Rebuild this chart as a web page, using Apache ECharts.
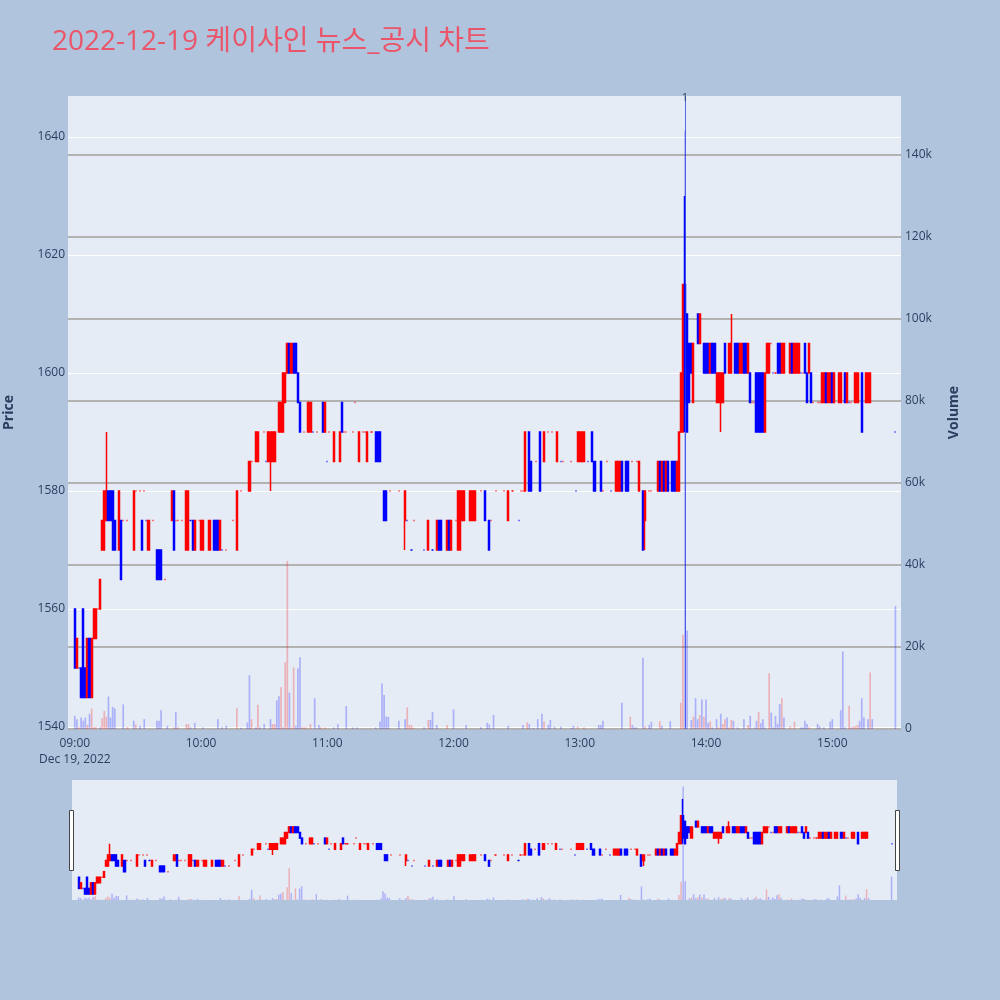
<!DOCTYPE html>
<html>
<head>
<meta charset="utf-8">
<title>2022-12-19 케이사인 뉴스_공시 차트</title>
<script src="https://cdn.jsdelivr.net/npm/echarts@6.0.0/dist/echarts.min.js"></script>
<style>
  html, body { margin: 0; padding: 0; background: #b0c4de; }
  #chart { width: 1000px; height: 1000px; }
</style>
</head>
<body>
<div id="chart"></div>
<script>
const day = '2022-12-19 ';

// [time, open, close, low, high]
const candles = [
  ['09:00',1560,1550,1550,1560], ['09:01',1550,1555,1550,1555], ['09:02',1550,1550,1550,1550],
  ['09:03',1550,1545,1545,1550], ['09:04',1560,1545,1545,1560], ['09:05',1550,1545,1545,1550],
  ['09:06',1545,1555,1545,1555], ['09:07',1555,1545,1545,1555], ['09:08',1545,1555,1545,1555],
  ['09:09',1555,1560,1555,1560], ['09:10',1555,1560,1555,1560], ['09:11',1560,1560,1560,1560],
  ['09:12',1560,1565,1560,1565], ['09:13',1570,1575,1570,1575], ['09:14',1570,1580,1570,1580],
  ['09:15',1575,1580,1575,1590], ['09:16',1580,1575,1575,1580], ['09:17',1580,1575,1575,1580],
  ['09:18',1580,1570,1570,1580], ['09:19',1575,1570,1570,1575], ['09:21',1570,1580,1570,1580],
  ['09:22',1575,1565,1565,1575], ['09:23',1575,1575,1575,1575], ['09:25',1575,1575,1575,1575],
  ['09:28',1570,1580,1570,1580], ['09:29',1580,1580,1580,1580], ['09:31',1580,1580,1580,1580],
  ['09:32',1575,1570,1570,1575], ['09:33',1580,1580,1580,1580], ['09:34',1575,1575,1575,1575],
  ['09:35',1570,1575,1570,1575], ['09:37',1575,1575,1575,1575], ['09:39',1570,1565,1565,1570],
  ['09:40',1570,1565,1565,1570], ['09:41',1570,1565,1565,1570], ['09:43',1565,1565,1565,1565],
  ['09:46',1575,1580,1575,1580], ['09:47',1580,1570,1570,1580], ['09:48',1575,1575,1575,1575],
  ['09:49',1575,1575,1575,1575], ['09:51',1575,1575,1575,1575], ['09:53',1570,1580,1570,1580],
  ['09:54',1570,1580,1570,1580], ['09:55',1575,1575,1575,1575], ['09:56',1575,1570,1570,1575],
  ['09:57',1570,1575,1570,1575], ['09:59',1575,1575,1575,1575], ['10:00',1570,1575,1570,1575],
  ['10:01',1570,1575,1570,1575], ['10:04',1570,1575,1570,1575], ['10:06',1575,1570,1570,1575],
  ['10:07',1575,1570,1570,1575], ['10:08',1575,1570,1570,1575], ['10:09',1570,1575,1570,1575],
  ['10:10',1570,1570,1570,1570], ['10:12',1570,1570,1570,1570], ['10:15',1575,1575,1575,1575],
  ['10:17',1570,1580,1570,1580], ['10:19',1580,1580,1580,1580], ['10:23',1580,1585,1580,1585],
  ['10:24',1585,1585,1585,1585], ['10:26',1585,1590,1585,1590], ['10:27',1585,1590,1585,1590],
  ['10:30',1590,1590,1590,1590], ['10:31',1585,1585,1585,1585], ['10:32',1585,1590,1585,1590],
  ['10:33',1585,1590,1580,1590], ['10:34',1585,1590,1585,1590], ['10:35',1585,1590,1585,1590],
  ['10:37',1590,1595,1590,1595], ['10:38',1590,1595,1590,1595], ['10:39',1590,1600,1590,1600],
  ['10:40',1595,1600,1595,1600], ['10:41',1600,1605,1600,1605], ['10:42',1605,1600,1600,1605],
  ['10:43',1600,1605,1600,1605], ['10:44',1605,1600,1600,1605], ['10:45',1605,1600,1600,1605],
  ['10:46',1600,1595,1595,1600], ['10:47',1595,1590,1590,1595], ['10:49',1590,1590,1590,1590],
  ['10:51',1590,1595,1590,1595], ['10:52',1590,1595,1590,1595], ['10:53',1590,1590,1590,1590],
  ['10:55',1590,1590,1590,1590], ['10:58',1595,1590,1590,1595], ['10:59',1590,1595,1590,1595],
  ['11:00',1585,1585,1585,1585], ['11:01',1590,1590,1590,1590], ['11:03',1585,1590,1585,1590],
  ['11:06',1585,1590,1585,1590], ['11:07',1595,1590,1590,1595], ['11:08',1590,1590,1590,1590],
  ['11:09',1590,1590,1590,1590], ['11:12',1590,1590,1590,1590], ['11:13',1595,1595,1595,1595],
  ['11:15',1585,1590,1585,1590], ['11:17',1590,1590,1590,1590], ['11:18',1590,1590,1590,1590],
  ['11:19',1585,1590,1585,1590], ['11:21',1590,1590,1590,1590], ['11:23',1590,1585,1585,1590],
  ['11:24',1590,1585,1585,1590], ['11:25',1590,1585,1585,1590], ['11:27',1580,1575,1575,1580],
  ['11:28',1580,1575,1575,1580], ['11:30',1580,1580,1580,1580], ['11:34',1580,1580,1580,1580],
  ['11:37',1575,1580,1570,1580], ['11:38',1575,1575,1575,1575], ['11:40',1570,1570,1570,1570],
  ['11:41',1575,1575,1575,1575], ['11:46',1570,1570,1570,1570], ['11:48',1570,1575,1570,1575],
  ['11:50',1570,1570,1570,1570], ['11:52',1570,1575,1570,1575], ['11:53',1575,1570,1570,1575],
  ['11:54',1575,1570,1570,1575], ['11:57',1570,1575,1570,1575], ['11:58',1575,1570,1570,1575],
  ['11:59',1570,1575,1570,1575], ['12:01',1575,1575,1575,1575], ['12:02',1570,1580,1570,1580],
  ['12:03',1570,1580,1570,1580], ['12:04',1575,1580,1575,1580], ['12:05',1575,1580,1575,1580],
  ['12:08',1575,1580,1575,1580], ['12:09',1575,1580,1575,1580], ['12:10',1575,1580,1575,1580],
  ['12:13',1580,1580,1580,1580], ['12:15',1580,1575,1575,1580], ['12:17',1575,1570,1570,1575],
  ['12:18',1575,1575,1575,1575], ['12:20',1580,1580,1580,1580], ['12:24',1580,1580,1580,1580],
  ['12:26',1575,1580,1575,1580], ['12:28',1580,1580,1580,1580], ['12:31',1575,1575,1575,1575],
  ['12:32',1580,1580,1580,1580], ['12:33',1580,1580,1580,1580], ['12:34',1580,1590,1580,1590],
  ['12:36',1590,1580,1580,1590], ['12:37',1585,1580,1580,1585], ['12:39',1585,1585,1585,1585],
  ['12:41',1590,1580,1580,1590], ['12:43',1585,1590,1585,1590], ['12:45',1590,1590,1590,1590],
  ['12:47',1590,1590,1590,1590], ['12:49',1585,1590,1585,1590], ['12:51',1585,1585,1585,1585],
  ['12:52',1585,1585,1585,1585], ['12:56',1585,1585,1585,1585], ['12:58',1580,1580,1580,1580],
  ['12:59',1585,1590,1585,1590], ['13:00',1585,1590,1585,1590], ['13:01',1585,1590,1585,1590],
  ['13:02',1585,1590,1585,1590], ['13:04',1585,1585,1585,1585], ['13:06',1590,1585,1585,1590],
  ['13:07',1585,1580,1580,1585], ['13:10',1585,1580,1580,1585], ['13:11',1580,1580,1580,1580],
  ['13:13',1585,1585,1585,1585], ['13:15',1580,1580,1580,1580], ['13:17',1580,1585,1580,1585],
  ['13:18',1580,1585,1580,1585], ['13:19',1580,1585,1580,1585], ['13:20',1585,1580,1580,1585],
  ['13:22',1585,1580,1580,1585], ['13:23',1585,1580,1580,1585], ['13:25',1585,1585,1585,1585],
  ['13:27',1585,1585,1585,1585], ['13:28',1580,1585,1580,1585], ['13:30',1580,1570,1570,1580],
  ['13:31',1575,1580,1570,1580], ['13:33',1580,1580,1580,1580], ['13:34',1580,1580,1580,1580],
  ['13:37',1580,1585,1580,1585], ['13:38',1585,1580,1580,1585], ['13:39',1580,1585,1580,1585],
  ['13:40',1585,1580,1580,1585], ['13:41',1580,1585,1580,1585], ['13:42',1585,1580,1580,1585],
  ['13:44',1585,1580,1580,1585], ['13:45',1585,1580,1580,1585], ['13:46',1580,1585,1580,1585],
  ['13:47',1580,1590,1580,1590], ['13:48',1590,1600,1590,1600], ['13:49',1590,1615,1590,1615],
  ['13:50',1615,1595,1590,1630], ['13:51',1610,1590,1590,1610], ['13:52',1605,1595,1595,1605],
  ['13:53',1605,1600,1600,1605], ['13:54',1595,1605,1595,1605], ['13:56',1610,1605,1605,1610],
  ['13:57',1605,1610,1605,1610], ['13:59',1605,1600,1600,1605], ['14:00',1605,1600,1600,1605],
  ['14:01',1605,1600,1600,1605], ['14:02',1600,1605,1600,1605], ['14:03',1605,1600,1600,1605],
  ['14:04',1605,1600,1600,1605], ['14:05',1595,1600,1595,1600], ['14:06',1595,1600,1595,1600],
  ['14:07',1595,1600,1590,1600], ['14:08',1595,1600,1595,1600], ['14:09',1605,1600,1600,1605],
  ['14:11',1600,1605,1600,1605], ['14:12',1600,1605,1600,1610], ['14:14',1605,1600,1600,1605],
  ['14:15',1605,1600,1600,1605], ['14:16',1600,1605,1600,1605], ['14:17',1600,1605,1600,1605],
  ['14:18',1605,1600,1600,1605], ['14:19',1605,1600,1600,1605], ['14:20',1600,1605,1600,1605],
  ['14:21',1600,1595,1595,1600], ['14:22',1595,1595,1595,1595], ['14:23',1595,1595,1595,1595],
  ['14:24',1600,1590,1590,1600], ['14:25',1600,1590,1590,1600], ['14:26',1600,1590,1590,1600],
  ['14:27',1600,1590,1590,1600], ['14:28',1590,1600,1590,1600], ['14:29',1600,1605,1600,1605],
  ['14:30',1600,1605,1600,1605], ['14:31',1605,1605,1605,1605], ['14:32',1600,1600,1600,1600],
  ['14:33',1600,1600,1600,1600], ['14:34',1605,1600,1600,1605], ['14:35',1605,1600,1600,1605],
  ['14:36',1600,1605,1600,1605], ['14:37',1600,1605,1600,1605], ['14:40',1600,1605,1600,1605],
  ['14:41',1605,1600,1600,1605], ['14:42',1600,1605,1600,1605], ['14:43',1600,1605,1600,1605],
  ['14:44',1600,1605,1600,1605], ['14:45',1600,1600,1600,1600], ['14:46',1600,1600,1600,1600],
  ['14:47',1605,1600,1600,1605], ['14:48',1600,1595,1595,1600], ['14:49',1600,1605,1600,1605],
  ['14:50',1600,1595,1595,1600], ['14:51',1595,1595,1595,1595], ['14:53',1595,1595,1595,1595],
  ['14:54',1595,1595,1595,1595], ['14:55',1595,1600,1595,1600], ['14:56',1595,1600,1595,1600],
  ['14:57',1600,1595,1595,1600], ['14:58',1595,1600,1595,1600], ['14:59',1595,1600,1595,1600],
  ['15:00',1600,1595,1595,1600], ['15:01',1595,1600,1595,1600], ['15:03',1595,1600,1595,1600],
  ['15:04',1595,1600,1595,1600], ['15:06',1600,1595,1595,1600], ['15:07',1595,1600,1595,1600],
  ['15:08',1595,1595,1595,1595], ['15:09',1595,1595,1595,1595], ['15:11',1595,1600,1595,1600],
  ['15:12',1595,1600,1595,1600], ['15:14',1600,1590,1590,1600], ['15:16',1595,1600,1595,1600],
  ['15:17',1595,1600,1595,1600], ['15:18',1595,1600,1595,1600], ['15:30',1590,1590,1590,1590]
];

// [time, shares, 1 = red bar / 0 = blue bar]
const volumes = [
  ['09:00',3200,0], ['09:01',2400,0], ['09:02',400,1], ['09:03',2800,0], ['09:04',2000,0],
  ['09:05',2800,0], ['09:06',1000,1], ['09:07',3700,0], ['09:08',5000,1], ['09:09',500,1],
  ['09:10',500,1], ['09:12',400,0], ['09:13',2600,1], ['09:14',4400,1], ['09:15',3000,1],
  ['09:16',7900,0], ['09:17',2800,0], ['09:18',5400,0], ['09:19',5000,0], ['09:23',6000,0],
  ['09:25',500,1], ['09:28',2000,0], ['09:29',1100,1], ['09:31',800,0], ['09:33',2400,0],
  ['09:39',2000,0], ['09:40',2000,0], ['09:41',4600,0], ['09:44',800,0], ['09:47',400,1],
  ['09:48',4100,0], ['09:49',400,1], ['09:53',1200,1], ['09:54',1200,1], ['09:55',400,0],
  ['09:57',1500,0], ['10:01',400,0], ['10:08',2400,0], ['10:10',400,0], ['10:12',800,0],
  ['10:17',5100,1], ['10:19',300,0], ['10:22',1600,0], ['10:23',13100,0], ['10:24',2400,1],
  ['10:26',400,0], ['10:27',5900,1], ['10:28',400,0], ['10:30',1200,0], ['10:33',2400,0],
  ['10:34',1200,1], ['10:35',1200,1], ['10:36',7000,0], ['10:37',8000,0], ['10:38',10200,1],
  ['10:39',400,0], ['10:40',16300,1], ['10:41',41000,1], ['10:42',8900,0], ['10:43',400,1],
  ['10:44',15000,1], ['10:45',800,0], ['10:46',14800,0], ['10:47',17500,0], ['10:48',400,1],
  ['10:49',400,1], ['10:50',400,1], ['10:52',1200,1], ['10:54',7500,0], ['10:56',1000,0],
  ['10:57',400,1], ['10:59',400,1], ['11:03',400,0], ['11:05',1200,0], ['11:09',5600,0],
  ['11:12',400,0], ['11:14',400,0], ['11:23',400,0], ['11:25',1800,0], ['11:26',11100,0],
  ['11:27',8300,0], ['11:28',3000,0], ['11:29',3000,0], ['11:34',2000,0], ['11:37',2400,0],
  ['11:38',5300,1], ['11:39',1000,1], ['11:40',1000,1], ['11:41',300,1], ['11:46',400,0],
  ['11:48',2200,1], ['11:49',2200,0], ['11:50',4100,0], ['11:52',1000,0], ['11:57',1000,1],
  ['12:00',4800,0], ['12:06',1000,0], ['12:13',400,0], ['12:16',1500,0], ['12:17',1100,0],
  ['12:19',3400,0], ['12:26',800,0], ['12:33',1000,0], ['12:35',1600,1], ['12:36',1200,0],
  ['12:38',200,0], ['12:40',2400,0], ['12:42',3700,0], ['12:43',1800,1], ['12:45',1000,0],
  ['12:46',2200,0], ['12:48',600,0], ['12:51',600,0], ['12:56',200,0], ['12:57',800,0],
  ['12:59',600,1], ['13:02',400,1], ['13:09',1000,0], ['13:10',1000,0], ['13:11',2000,0],
  ['13:20',6400,0], ['13:24',3000,1], ['13:25',1000,0], ['13:26',400,0], ['13:27',400,0],
  ['13:30',17400,0], ['13:31',600,1], ['13:33',1000,0], ['13:34',1800,0], ['13:38',1900,1],
  ['13:39',800,0], ['13:43',1900,0], ['13:48',6400,1], ['13:49',23000,1], ['13:50',146000,0],
  ['13:51',24000,0], ['13:53',2200,0], ['13:54',3000,1], ['13:55',7500,0], ['13:56',2400,0],
  ['13:57',3400,1], ['13:58',7200,0], ['13:59',3000,1], ['14:00',7200,0], ['14:01',1500,0],
  ['14:02',1900,1], ['14:03',400,0], ['14:05',2400,0], ['14:06',400,1], ['14:07',3700,0],
  ['14:08',1200,1], ['14:09',2400,1], ['14:10',2800,0], ['14:11',400,1], ['14:12',2200,1],
  ['14:13',2000,0], ['14:15',400,0], ['14:18',2400,0], ['14:20',1000,1], ['14:21',3200,0],
  ['14:23',400,0], ['14:24',2000,0], ['14:25',4200,1], ['14:26',1400,0], ['14:27',2400,0],
  ['14:28',400,0], ['14:30',13600,1], ['14:31',4000,0], ['14:32',400,0], ['14:33',3200,0],
  ['14:34',1200,0], ['14:35',6100,0], ['14:36',7500,1], ['14:37',2800,0], ['14:40',700,1],
  ['14:42',1800,1], ['14:45',400,0], ['14:46',400,0], ['14:47',2000,0], ['14:48',1200,0],
  ['14:49',400,1], ['14:53',1200,0], ['14:54',700,0], ['14:56',400,0], ['14:59',1800,0],
  ['15:00',2400,0], ['15:04',4600,0], ['15:05',18900,0], ['15:06',400,0], ['15:08',5700,1],
  ['15:09',400,0], ['15:10',600,1], ['15:11',700,1], ['15:12',1000,1], ['15:13',2000,0],
  ['15:14',7500,0], ['15:15',2800,0], ['15:17',2400,0], ['15:18',13800,1], ['15:19',2400,0],
  ['15:30',30000,0]
];

// news / disclosure marker
const newsTimes = ['13:50'];
const newsLabels = ['1'];

const RED = '#ff0000';
const BLUE = '#0000ff';
const VOL_RED = 'rgba(255,0,0,0.25)';
const VOL_BLUE = 'rgba(0,0,255,0.25)';
const FONT = "'Open Sans', 'Noto Sans CJK KR', sans-serif";
const TXT = '#2a3f5f';

const xMin = day + '08:57:10';
const xMax = day + '15:32:15';
const priceMin = 1539.66;
const priceMax = 1646.95;
const volMax = 154400;

const candleData = candles.map(c => [day + c[0], c[1], c[2], c[3], c[4]]);
const volData = volumes.map(v => ({
  value: [day + v[0], v[1]],
  itemStyle: { color: v[2] ? VOL_RED : VOL_BLUE }
}));

const pad2 = n => String(n).padStart(2, '0');

const candleStyle = {
  color: RED, color0: BLUE,
  borderColor: RED, borderColor0: BLUE,
  borderWidth: 1.5
};

const chart = echarts.init(document.getElementById('chart'), null, { renderer: 'canvas' });

chart.setOption({
  backgroundColor: '#b0c4de',
  animation: false,
  textStyle: { fontFamily: FONT },
  title: {
    text: '2022-12-19 케이사인 뉴스_공시 차트',
    left: 47, top: 23,
    textStyle: { color: '#eb5569', fontSize: 28, fontWeight: 'normal', fontFamily: FONT }
  },
  grid: [
    { left: 68, right: 99, top: 96, height: 633, show: true, backgroundColor: '#e5ecf6', borderWidth: 0, outerBoundsMode: 'none', containLabel: false },
    { left: 72, right: 103, top: 780, height: 120, show: true, backgroundColor: '#e5ecf6', borderWidth: 0, outerBoundsMode: 'none', containLabel: false }
  ],
  xAxis: [
    {
      type: 'time', gridIndex: 0, min: xMin, max: xMax,
      minInterval: 3600 * 1000, maxInterval: 3600 * 1000,
      axisLine: { show: false }, axisTick: { show: false }, splitLine: { show: false },
      axisLabel: {
        color: TXT, fontSize: 12, margin: 7, lineHeight: 16,
        formatter: function (val) {
          const d = new Date(val);
          if (d.getMinutes() !== 0 || d.getSeconds() !== 0) return '';
          let s = pad2(d.getHours()) + ':' + pad2(d.getMinutes());
          if (d.getHours() === 9) s += '\nDec 19, 2022';
          return s;
        }
      }
    },
    {
      type: 'time', gridIndex: 1, min: xMin, max: xMax,
      axisLine: { show: false }, axisTick: { show: false },
      axisLabel: { show: false }, splitLine: { show: false }
    }
  ],
  yAxis: [
    {
      type: 'value', gridIndex: 0, position: 'left', min: priceMin, max: priceMax, splitNumber: 5,
      name: 'Price', nameLocation: 'middle', nameGap: 52, nameRotate: 90,
      nameTextStyle: { color: TXT, fontSize: 14, fontWeight: 'bold' },
      axisLine: { show: false }, axisTick: { show: false },
      axisLabel: {
        color: TXT, fontSize: 12, margin: 3,
        formatter: v => (Math.abs(v % 20) < 1e-6 ? String(v) : '')
      },
      splitLine: { show: true, showMinLine: false, showMaxLine: false, lineStyle: { color: '#ffffff', width: 1 } }
    },
    {
      type: 'value', gridIndex: 0, position: 'right', min: 0, max: volMax, interval: 20000,
      name: 'Volume', nameLocation: 'middle', nameGap: 46, nameRotate: 90,
      nameTextStyle: { color: TXT, fontSize: 14, fontWeight: 'bold' },
      axisLine: { show: false }, axisTick: { show: false },
      axisLabel: {
        color: TXT, fontSize: 12, margin: 4,
        formatter: v => (v % 20000 !== 0 ? '' : (v === 0 ? '0' : (v / 1000) + 'k'))
      },
      splitLine: { show: true, showMaxLine: false, lineStyle: { color: '#b2b2b2', width: 2 } }
    },
    { type: 'value', gridIndex: 1, min: priceMin, max: priceMax, show: false, splitLine: { show: false } },
    { type: 'value', gridIndex: 1, min: 0, max: volMax, show: false, splitLine: { show: false } }
  ],
  series: [
    {
      type: 'candlestick', name: 'Price', xAxisIndex: 0, yAxisIndex: 0,
      data: candleData, encode: { x: 0, y: [1, 2, 3, 4] },
      barWidth: 1.6, itemStyle: candleStyle, z: 2,
      markLine: {
        silent: true, symbol: ['none', 'none'], animation: false,
        lineStyle: { color: 'rgba(40,60,230,0.75)', width: 1, type: 'solid' },
        label: { show: true, position: 'end', distance: -7, color: TXT, fontSize: 11 },
        emphasis: { disabled: true },
        data: newsTimes.map((t, i) => ({ xAxis: day + t, label: { formatter: newsLabels[i] } }))
      }
    },
    {
      type: 'bar', name: 'Volume', xAxisIndex: 0, yAxisIndex: 1,
      data: volData, barWidth: 1.7, z: 3
    },
    {
      type: 'candlestick', xAxisIndex: 1, yAxisIndex: 2,
      data: candleData, encode: { x: 0, y: [1, 2, 3, 4] },
      barWidth: 1.6, itemStyle: candleStyle
    },
    {
      type: 'bar', xAxisIndex: 1, yAxisIndex: 3,
      data: volData, barWidth: 1.5
    }
  ],
  graphic: [
    { type: 'rect', z: 100, shape: { x: 69.5, y: 810.5, width: 4, height: 60 }, style: { fill: '#ffffff', stroke: '#444444', lineWidth: 1 } },
    { type: 'rect', z: 100, shape: { x: 895.5, y: 810.5, width: 4, height: 60 }, style: { fill: '#ffffff', stroke: '#444444', lineWidth: 1 } }
  ]
});
</script>
</body>
</html>
